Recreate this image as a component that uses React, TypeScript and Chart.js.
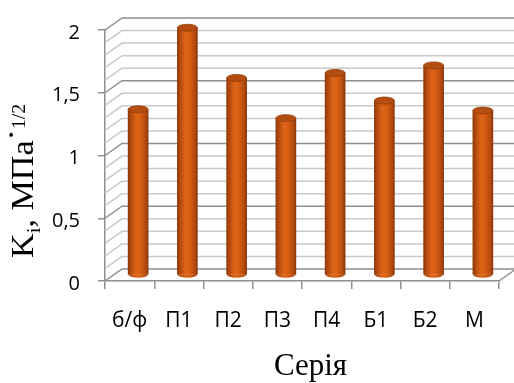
import React, { useEffect, useRef } from 'react';
import { Chart, registerables } from 'chart.js';

Chart.register(...registerables);

// ---- data ----
const categories = ['б/ф', 'П1', 'П2', 'П3', 'П4', 'Б1', 'Б2', 'М'];
const values = [1.32, 1.97, 1.57, 1.25, 1.61, 1.39, 1.67, 1.31];
const yMin = 0;
const yMax = 2;
const yStep = 0.5;
const minorStep = 0.1;
const xTitle = 'Серія';
const yTitleMain = 'K';
const yTitleSub = 'і';
const yTitleRest = ', МПа';
const yTitleDot = '·';
const yTitleSup = '1/2';

// ---- style ----
const WALL_DX = 17;
const WALL_DY = -12;
const BAR_DX = 8.5;
const BAR_DY = -6;
const SANS = "'Open Sans', 'Noto Sans', sans-serif";
const SERIF = "'Liberation Serif', 'Times New Roman', serif";
const MAJOR = '#8f8f8f';
const MINOR = '#c9c9c9';

function barGradient(ctx: CanvasRenderingContext2D, x: number, w: number) {
  const g = ctx.createLinearGradient(x - w / 2, 0, x + w / 2, 0);
  g.addColorStop(0, '#8e380a');
  g.addColorStop(0.12, '#b0480d');
  g.addColorStop(0.4, '#dc6417');
  g.addColorStop(0.6, '#d95f14');
  g.addColorStop(0.88, '#b24a0e');
  g.addColorStop(1, '#8a3609');
  return g;
}

const wallPlugin = {
  id: 'wall3d',
  beforeDatasetsDraw(chart: any) {
    const { ctx, chartArea: a, scales } = chart;
    const ys = scales.y;
    const meta = chart.getDatasetMeta(0);
    ctx.save();
    // keep the wall lines out of the space covered by the bars
    ctx.beginPath();
    ctx.rect(0, 0, chart.width, chart.height);
    meta.data.forEach((bar: any) => {
      const { x, y, base, width } = bar.getProps(['x', 'y', 'base', 'width'], true);
      ctx.rect(x - width / 2 + BAR_DX, y + BAR_DY, width, base - y + 3);
    });
    ctx.clip('evenodd');
    ctx.lineWidth = 1.5;
    const n = Math.round((yMax - yMin) / minorStep);
    for (let i = 0; i <= n; i++) {
      const v = yMin + i * minorStep;
      const major = i % Math.round(yStep / minorStep) === 0;
      const py = ys.getPixelForValue(v);
      ctx.strokeStyle = major ? MAJOR : MINOR;
      ctx.beginPath();
      ctx.moveTo(a.left, py);
      ctx.lineTo(a.left + WALL_DX, py + WALL_DY);
      ctx.lineTo(chart.width + 10, py + WALL_DY);
      ctx.stroke();
    }
    const y0 = ys.getPixelForValue(yMin);
    ctx.strokeStyle = MAJOR;
    ctx.beginPath();
    ctx.moveTo(a.right, y0);
    ctx.lineTo(a.right + WALL_DX, y0 + WALL_DY);
    ctx.stroke();
    ctx.restore();
    ctx.save();
    ctx.translate(BAR_DX, BAR_DY);
  },
  afterDatasetsDraw(chart: any) {
    const { ctx } = chart;
    const meta = chart.getDatasetMeta(0);
    meta.data.forEach((bar: any) => {
      const { x, y, base, width } = bar.getProps(['x', 'y', 'base', 'width'], true);
      const rx = width / 2;
      const ry = 3.5;
      ctx.fillStyle = barGradient(ctx, x, width);
      ctx.beginPath();
      ctx.ellipse(x, base, rx, ry, 0, 0, Math.PI);
      ctx.fill();
      ctx.fillStyle = '#b44d10';
      ctx.strokeStyle = '#953d0b';
      ctx.lineWidth = 0.8;
      ctx.beginPath();
      ctx.ellipse(x, y, rx, ry, 0, 0, Math.PI * 2);
      ctx.fill();
      ctx.stroke();
    });
    ctx.restore();
  },
  afterDraw(chart: any) {
    const { ctx, chartArea: a } = chart;
    ctx.save();
    ctx.fillStyle = '#000';
    ctx.font = `31px ${SERIF}`;
    ctx.textAlign = 'center';
    ctx.textBaseline = 'alphabetic';
    ctx.fillText(xTitle, (a.left + a.right) / 2 + BAR_DX, 375);
    ctx.translate(33, 258);
    ctx.rotate(-Math.PI / 2);
    ctx.scale(1.1, 1);
    ctx.textAlign = 'left';
    const parts = [
      { t: yTitleMain, size: 31, dy: 0 },
      { t: yTitleSub, size: 19, dy: 7 },
      { t: yTitleRest, size: 31, dy: 0 },
      { t: yTitleDot, size: 31, dy: -11 },
      { t: yTitleSup, size: 18, dy: -8 },
    ];
    let px = 0;
    for (const p of parts) {
      ctx.font = `${p.size}px ${SERIF}`;
      ctx.fillText(p.t, px, p.dy);
      px += ctx.measureText(p.t).width;
    }
    ctx.restore();
  },
};

export default function App() {
  const ref = useRef<HTMLCanvasElement | null>(null);
  useEffect(() => {
    if (!ref.current) return;
    const chart = new Chart(ref.current, {
      type: 'bar',
      data: {
        labels: categories,
        datasets: [
          {
            data: values,
            barThickness: 20,
            borderWidth: 0,
            backgroundColor: (c: any) => {
              const ch = c.chart;
              if (!ch.chartArea || c.dataIndex === undefined) return '#d0601a';
              const x = ch.scales.x.getPixelForValue(c.dataIndex);
              return barGradient(ch.ctx, x, 20);
            },
          } as any,
        ],
      },
      options: {
        animation: false,
        responsive: false,
        layout: { padding: { left: 0, right: 15, top: 26, bottom: 0 } },
        plugins: { legend: { display: false }, tooltip: { enabled: false } },
        scales: {
          x: {
            grid: {
              display: true,
              drawOnChartArea: false,
              drawTicks: true,
              tickLength: 8,
              color: MAJOR,
              lineWidth: 1.5,
              offset: true,
            },
            border: { display: true, color: MAJOR, width: 1.5 },
            ticks: {
              font: { family: SANS, size: 21 },
              color: '#000',
              padding: 19,
              maxRotation: 0,
              autoSkip: false,
            },
            afterFit: (s: any) => {
              s.height = 102;
            },
          },
          y: {
            min: yMin,
            max: yMax,
            ticks: {
              stepSize: yStep,
              font: { family: SANS, size: 20 },
              color: '#000',
              padding: 18,
              labelOffset: 3,
              callback: (v: any) => String(v).replace('.', ','),
            },
            grid: { drawOnChartArea: false, tickLength: 7, color: MAJOR, lineWidth: 1.5 },
            border: { display: true, color: MAJOR, width: 1.5 },
            afterFit: (s: any) => {
              s.width = 105;
            },
          },
        },
      },
      plugins: [wallPlugin],
    });
    return () => chart.destroy();
  }, []);
  return (
    <canvas
      ref={ref}
      width={514}
      height={383}
      style={{ position: 'absolute', left: 0, top: 0, width: 514, height: 383, display: 'block' }}
    />
  );
}
